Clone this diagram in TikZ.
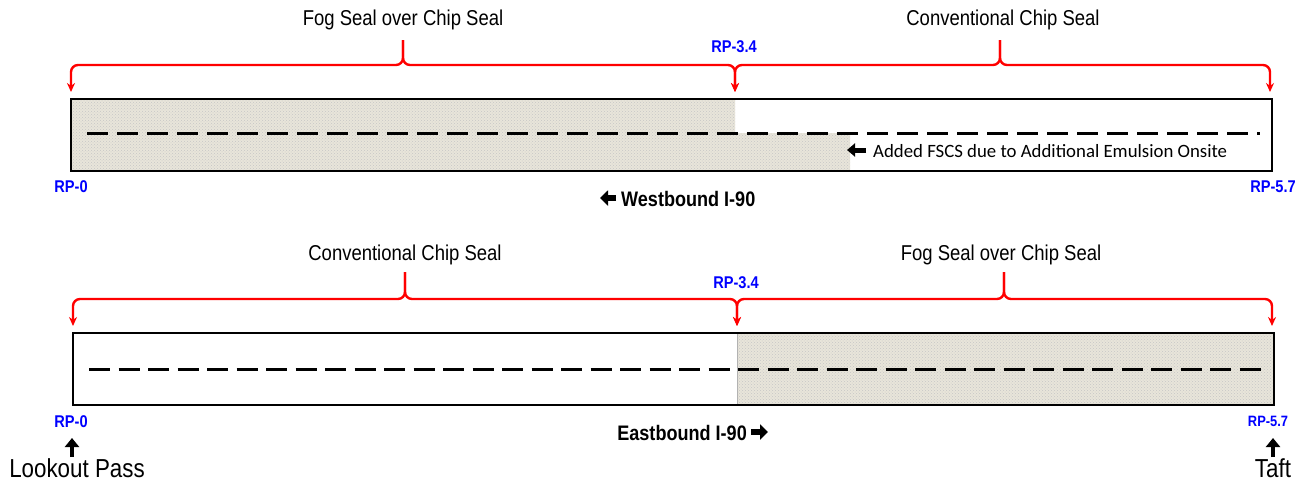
\documentclass[tikz,border=0pt]{standalone}
\usepackage{fontspec}
\setmainfont{Liberation Sans}[FakeStretch=0.86]
\newfontfamily\calib{Carlito}
\usetikzlibrary{arrows.meta,patterns}
\definecolor{rpblue}{RGB}{0,0,255}
\definecolor{bred}{RGB}{255,0,0}
\definecolor{seal}{RGB}{232,229,218}
\begin{document}
\begin{tikzpicture}[x=1pt,y=-1pt,
  lbl/.style={inner sep=0pt,font=\fontsize{21.5}{24}\selectfont},
  rp/.style={inner sep=0pt,text=rpblue,font=\bfseries\fontsize{17}{19}\selectfont},
  dir/.style={inner sep=0pt,font=\bfseries\fontsize{21}{24}\selectfont},
  place/.style={inner sep=0pt,font=\fontsize{26}{29}\selectfont},
  brace/.style={draw=bred,line width=2.4pt,rounded corners=7pt,-{Stealth[length=9pt,width=8pt]}},
  road/.style={draw=black,line width=2.6pt},
  shade/.style={fill=seal,draw=none},
  texture/.style={pattern=crosshatch dots,pattern color=gray!45},
  centre/.style={line width=3pt,dash pattern=on 21pt off 9pt},
  blockarrow/.style={line width=6pt,-{Triangle[length=8pt,width=15pt]}},
  notearrow/.style={line width=5pt,-{Triangle[length=8pt,width=13pt]}},
  thinarrow/.style={line width=4pt,-{Triangle[length=9pt,width=14pt]}}]
\useasboundingbox (0,0) rectangle (1303,482);

% ---------- Westbound ----------
\node[lbl] (wfog) at (403,20) {Fog Seal over Chip Seal};
\node[lbl] (wconv) at (1003,20) {Conventional Chip Seal};
\node[rp] (wrp34) at (734,47) {RP-3.4};
\coordinate (wt1) at (403,40);
\coordinate (wt2) at (1000,40);
\coordinate (wa0) at (71,92);
\coordinate (wa1) at (735,92);
\coordinate (wa2) at (1270,92);
\draw[brace] (wt1) -- (403,65) -| (wa0);
\draw[brace] (wt1) -- (403,65) -| (wa1);
\draw[brace] (wt2) -- (1000,65) -| (wa1);
\draw[brace] (wt2) -- (1000,65) -| (wa2);

\fill[shade] (71,99) -- (735,99) -- (735,133) -- (850,133) -- (850,171) -- (71,171) -- cycle;
\fill[texture] (71,99) -- (735,99) -- (735,133) -- (850,133) -- (850,171) -- (71,171) -- cycle;
\draw[road] (71,99) rectangle (1272,171);
\coordinate (wd0) at (87,133);
\coordinate (wd1) at (1260,133);
\draw[centre] (wd0) -- (wd1);

\coordinate (wn0) at (866,150);
\coordinate (wn1) at (847,150);
\draw[notearrow] (wn0) -- (wn1);
\node[anchor=west,inner sep=0pt,font=\calib\fontsize{18.8}{22}\selectfont] (note) at (873,151) {Added FSCS due to Additional Emulsion Onsite};

\node[rp] (wrp0) at (71,187) {RP-0};
\node[rp] (wrp57) at (1273,187) {RP-5.7};
\coordinate (ww0) at (616,198);
\coordinate (ww1) at (600,198);
\draw[blockarrow] (ww0) -- (ww1);
\node[dir,anchor=west] (west) at (621,199) {Westbound I-90};

% ---------- Eastbound ----------
\node[lbl] (econv) at (405,255) {Conventional Chip Seal};
\node[lbl] (efog) at (1001,255) {Fog Seal over Chip Seal};
\node[rp] (erp34) at (736,283) {RP-3.4};
\coordinate (et1) at (405,272);
\coordinate (et2) at (1004,272);
\coordinate (ea0) at (73,326);
\coordinate (ea1) at (737,326);
\coordinate (ea2) at (1272,326);
\draw[brace] (et1) -- (405,299) -| (ea0);
\draw[brace] (et1) -- (405,299) -| (ea1);
\draw[brace] (et2) -- (1004,299) -| (ea1);
\draw[brace] (et2) -- (1004,299) -| (ea2);

\fill[shade] (737,333) rectangle (1274,405);
\fill[texture] (737,333) rectangle (1274,405);
\draw[line width=0.6pt,draw=gray!60] (737,333) -- (737,405);
\draw[road] (73,333) rectangle (1274,405);
\coordinate (ed0) at (89,369);
\coordinate (ed1) at (1262,369);
\draw[centre,dash pattern=on 21pt off 8.5pt] (ed0) -- (ed1);

\node[rp] (erp0) at (71,422) {RP-0};
\node[rp,font=\bfseries\fontsize{15}{17}\selectfont] (erp57) at (1268,421) {RP-5.7};
\node[dir,anchor=east] (east) at (747,433) {Eastbound I-90};
\coordinate (ee0) at (751,432);
\coordinate (ee1) at (768,432);
\draw[blockarrow] (ee0) -- (ee1);

\coordinate (lp0) at (72,457);
\coordinate (lp1) at (72,438);
\draw[thinarrow] (lp0) -- (lp1);
\node[place] (lookout) at (77,468) {Lookout Pass};
\coordinate (tf0) at (1273,457);
\coordinate (tf1) at (1273,438);
\draw[thinarrow] (tf0) -- (tf1);
\node[place] (taft) at (1273,468) {Taft};
\end{tikzpicture}
\end{document}
